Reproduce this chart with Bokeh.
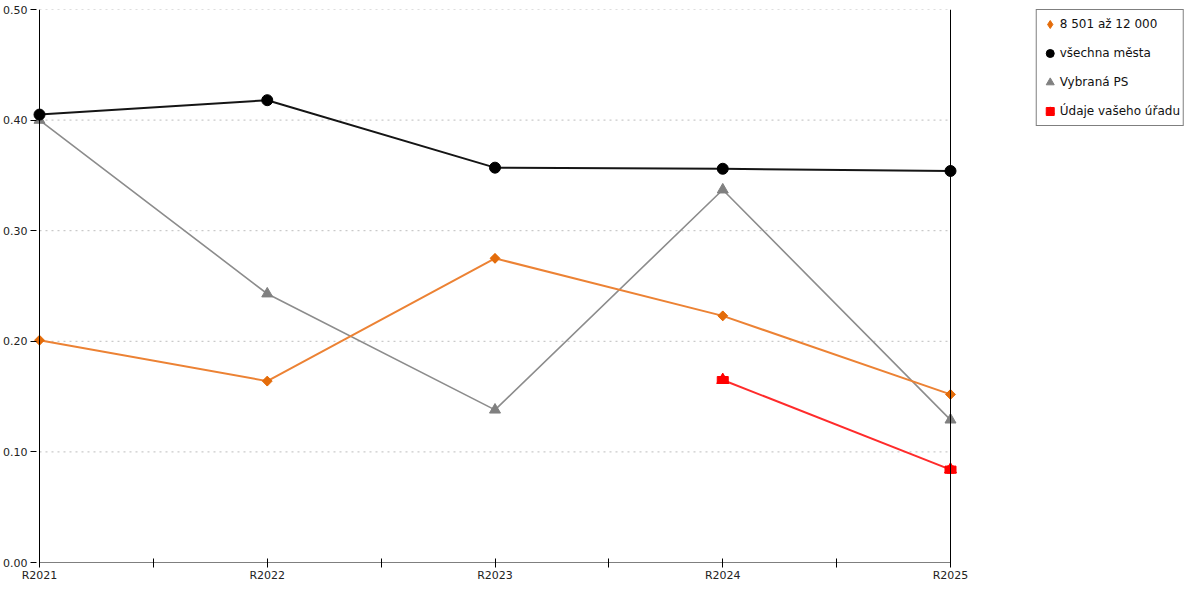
import math
from bokeh.plotting import figure
from bokeh.models import Range1d, FixedTicker, PrintfTickFormatter, Span, Legend, LegendItem
from bokeh.embed import file_html
from bokeh.resources import INLINE

# ---- data ----
years = ["R2021", "R2022", "R2023", "R2024", "R2025"]
band_vals = [0.201, 0.164, 0.275, 0.223, 0.152]      # 8 501 až 12 000
all_vals = [0.405, 0.418, 0.357, 0.356, 0.354]       # všechna města
ps_vals = [0.400, 0.243, 0.138, 0.337, 0.129]        # Vybraná PS
office_years = ["R2024", "R2025"]
office_vals = [0.165, 0.084]                         # Údaje vašeho úřadu
y_ticks = [0.0, 0.1, 0.2, 0.3, 0.4, 0.5]
series_names = ["8 501 až 12 000", "všechna města", "Vybraná PS", "Údaje vašeho úřadu"]

xs = list(range(len(years)))
ox = [years.index(y) for y in office_years]
FONT = "DejaVu Sans"

# layout targets (screen pixels) used to place the category axis inside a wider frame
FRAME_L, X0_PX, XN_PX, FRAME_R = 30, 39, 950, 1184
k = (XN_PX - X0_PX) / (xs[-1] - xs[0])
x_start = xs[0] - (X0_PX - FRAME_L) / k
x_end = xs[-1] + (FRAME_R - XN_PX) / k

p = figure(width=1184, height=584, output_backend="svg", toolbar_location=None,
           x_range=Range1d(x_start, x_end), y_range=Range1d(y_ticks[0], y_ticks[-1]),
           min_border_top=9, min_border_left=5, min_border_bottom=0, min_border_right=0)
p.outline_line_color = None
p.background_fill_color = "white"
p.border_fill_color = "white"
p.xgrid.grid_line_color = None
p.ygrid.grid_line_color = None

# dotted horizontal grid between first and last category
p.segment(x0=[xs[0]] * (len(y_ticks) - 1), x1=[xs[-1]] * (len(y_ticks) - 1),
          y0=y_ticks[1:], y1=y_ticks[1:], line_color="#bdbdbd", line_dash="2 4", line_width=1)

# x axis
xa = p.xaxis[0]
xa.ticker = FixedTicker(ticks=xs, minor_ticks=[x + 0.5 for x in xs[:-1]])
xa.major_label_overrides = {x: years[x] for x in xs}
xa.axis_line_color = None
xa.major_tick_in = 4
xa.major_tick_out = 5
xa.minor_tick_in = 4
xa.minor_tick_out = 5
xa.major_tick_line_color = "black"
xa.minor_tick_line_color = "black"
xa.major_label_standoff = 1
xa.major_label_text_font = FONT
xa.major_label_text_font_size = "11px"
xa.major_label_text_color = "#222222"

# y axis
ya = p.yaxis[0]
ya.ticker = FixedTicker(ticks=y_ticks)
ya.formatter = PrintfTickFormatter(format="%.2f")
ya.axis_line_color = None
ya.major_tick_in = 6
ya.major_tick_out = 0
ya.minor_tick_line_color = None
ya.major_tick_line_color = "black"
ya.major_label_standoff = 3
ya.major_label_text_font = FONT
ya.major_label_text_font_size = "11px"
ya.major_label_text_color = "#222222"

# axis lines at the first / last category
p.add_layout(Span(location=xs[0], dimension="height", line_color="black", line_width=1))
p.add_layout(Span(location=xs[-1], dimension="height", line_color="black", line_width=1))
p.segment(x0=[xs[0]], y0=[y_ticks[0]], x1=[xs[-1]], y1=[y_ticks[0]], line_color="black", line_width=1)

# series lines
p.line(xs, ps_vals, line_color="#8c8c8c", line_width=1.6)
p.line(xs, band_vals, line_color="#ec8234", line_width=2)
p.line(xs, all_vals, line_color="#151515", line_width=2)
p.line(ox, office_vals, line_color="#ff2b2b", line_width=2)

# markers
r_ps = p.scatter(xs, ps_vals, marker="triangle", size=11, fill_color="#808080", line_color="#808080")
r_band = p.scatter(xs, band_vals, marker="diamond", size=9, fill_color="#e46c0a", line_color="#e46c0a")
p.scatter(xs, band_vals, marker="square", size=7, angle=math.pi / 4,
          fill_color="#e46c0a", line_color="#e46c0a")
r_all = p.scatter(xs, all_vals, marker="circle", size=11, fill_color="black", line_color="black")
r_off_sq = p.scatter(ox, office_vals, marker="square", size=7, fill_color="#ff0000", line_color="#ff0000")
p.rect(ox, office_vals, width=11, height=7, width_units="screen", height_units="screen",
       fill_color="#ff0000", line_color="#ff0000")
r_off_tr = p.scatter(ox, office_vals, marker="triangle", size=12, fill_color="#ff0000", line_color="#ff0000")

legend = Legend(items=[
    LegendItem(label=series_names[0], renderers=[r_band]),
    LegendItem(label=series_names[1], renderers=[r_all]),
    LegendItem(label=series_names[2], renderers=[r_ps]),
    LegendItem(label=series_names[3], renderers=[r_off_sq, r_off_tr]),
], location="top_right", margin=0, padding=3, spacing=7, glyph_height=22, glyph_width=20,
   label_height=22, label_standoff=0, label_text_font=FONT, label_text_font_size="12px",
   label_text_color="#111111", border_line_color="black", border_line_width=1,
   background_fill_color="white", background_fill_alpha=1)
p.add_layout(legend, "center")

open("out.html", "w").write(file_html(p, INLINE))
